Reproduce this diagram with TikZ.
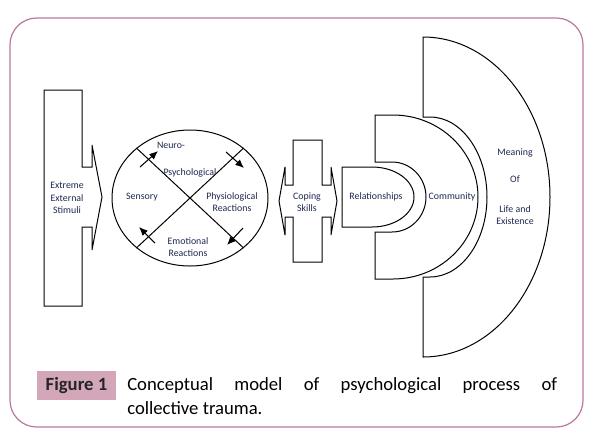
\documentclass[tikz,border=0pt]{standalone}
\usepackage{fontspec}
\setmainfont{Carlito}
\usetikzlibrary{shapes.geometric,arrows.meta}
\definecolor{bordercol}{HTML}{B8779F}
\definecolor{figbox}{HTML}{D3A6BA}
\definecolor{txt}{HTML}{1E2850}
\begin{document}
\begin{tikzpicture}[x=0.75pt,y=-0.75pt,
  shapeline/.style={draw=black, line width=0.75pt, line join=miter},
  lbl/.style={text=txt, font=\fontsize{7.4}{9.4}\selectfont, inner sep=0pt, align=center},
  arr/.style={-{Latex[length=6.5pt,width=5.5pt]}, line width=0.8pt},
  capfont/.style={font=\fontsize{14}{18}\selectfont, inner sep=0pt}]
\useasboundingbox (0,0) rectangle (593,437);
% outer frame
\draw[draw=bordercol, line width=0.9pt, rounded corners=20pt] (10,18) rectangle (583,427);

% Extreme External Stimuli callout
\draw[shapeline] (44,90) -- (82,90) -- (82,167) -- (92,167) -- (92,145) -- (102,197)
  -- (92,250) -- (92,227) -- (82,227) -- (82,306) -- (44,306) -- cycle;
\node[lbl] (stim) at (67,198) {Extreme\\External\\Stimuli};

% Ellipse with cross
\node[ellipse, draw, line width=0.75pt, minimum width=117pt, minimum height=102pt, inner sep=0pt] (ell) at (190,198) {};
\draw[line width=0.75pt] (ell.137) -- (ell.-43);
\draw[line width=0.75pt] (ell.43) -- (ell.-137);
\coordinate (a1s) at (140,167); \coordinate (a1e) at (158,151);
\coordinate (a2s) at (226,152); \coordinate (a2e) at (244,168);
\coordinate (a3s) at (243,228); \coordinate (a3e) at (227,245);
\coordinate (a4s) at (155,243); \coordinate (a4e) at (139,227);
\draw[arr] (a1s) -- (a1e);
\draw[arr] (a2s) -- (a2e);
\draw[arr] (a3s) -- (a3e);
\draw[arr] (a4s) -- (a4e);
\node[lbl] (neuro) at (171,145) {Neuro-};
\node[lbl] (psych) at (190,173) {Psychological};
\node[lbl] (sens) at (142,197) {Sensory};
\node[lbl] (phys) at (232,202) {Physiological\\Reactions};
\node[lbl] (emo) at (188,247) {Emotional\\Reactions};

% Coping skills double arrow
\draw[shapeline] (293,140) -- (322,140) -- (322,185) -- (331,185) -- (331,167) -- (337,201)
  -- (331,235) -- (331,217) -- (322,217) -- (322,262) -- (293,262) -- (293,217)
  -- (285,217) -- (285,235) -- (279,201) -- (285,167) -- (285,185) -- (293,185) -- cycle;
\node[lbl] (cope) at (307,202) {Coping\\Skills};

% Relationships
\draw[shapeline] (342,167) -- (372,167) arc[start angle=90, end angle=-90, x radius=31.5pt, y radius=22.5pt]
  -- (342,227) -- cycle;
\node[lbl] (rel) at (376,197) {Relationships};

% Community
\draw[shapeline] (375,115) -- (393,115) arc[start angle=90, end angle=-90, x radius=63.75pt, y radius=61.5pt]
  -- (375,279) -- (375,232) -- (392,232) arc[start angle=-90, end angle=90, x radius=25.5pt, y radius=26.25pt]
  -- (375,162) -- cycle;
\node[lbl] (comm) at (452,197) {Community};

% Meaning of life
\draw[shapeline] (423,37) arc[start angle=90, end angle=-90, x radius=95.25pt, y radius=120pt]
  -- (423,277) -- (430,277) arc[start angle=-90, end angle=90, x radius=42.75pt, y radius=60pt]
  -- (423,117) -- cycle;
\node[lbl] (mean) at (515,153) {Meaning};
\node[lbl] (of) at (515,179) {Of};
\node[lbl] (life) at (515,215) {Life and\\Existence};

% Caption
\node[fill=figbox, minimum width=59.25pt, minimum height=21.75pt, inner sep=0pt,
  font=\fontsize{14}{18}\selectfont\bfseries, text=black!85] (fig) at (76.5,385.5) {Figure 1};
\node[capfont, anchor=base west] (cap1) at (127,390) {\makebox[322.5pt][s]{Conceptual model of psychological process of}};
\node[capfont, anchor=base west] (cap2) at (127,414) {collective trauma.};
\end{tikzpicture}
\end{document}
